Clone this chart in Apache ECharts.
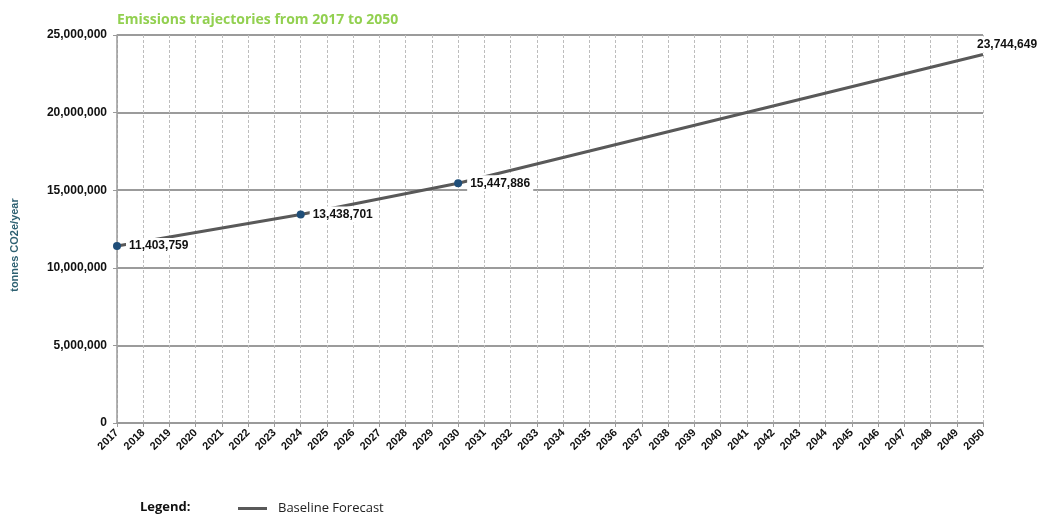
<!DOCTYPE html>
<html>
<head>
<meta charset="utf-8">
<script src="https://cdn.jsdelivr.net/npm/echarts@6/dist/echarts.min.js"></script>
<style>
  html, body { margin: 0; padding: 0; background: #fff; }
  #chart { width: 1039px; height: 515px; }
</style>
</head>
<body>
<div id="chart"></div>
<script>
  // years on the x axis
  const years = [];
  for (let y = 2017; y <= 2050; y++) years.push(String(y));

  // known points of the baseline forecast (others left empty, line joins them)
  const pointYears = ['2017', '2024', '2030', '2050'];
  const pointValues = [11403759, 13438701, 15447886, 23744649];
  const markedYears = ['2017', '2024', '2030'];

  const fmt = v => Math.round(v).toLocaleString('en-US');

  const seriesData = years.map(y => {
    const i = pointYears.indexOf(y);
    if (i < 0) return null;
    const item = {
      value: pointValues[i],
      symbolSize: markedYears.includes(y) ? 8 : 0
    };
    // the last label sits above the end of the line
    if (y === '2050') item.label = { offset: [-14, -10] };
    return item;
  });

  const chart = echarts.init(document.getElementById('chart'));

  const option = {
    animation: false,
    title: {
      text: 'Emissions trajectories from 2017 to 2050',
      left: 112,
      top: 8,
      textStyle: {
        color: '#92d050',
        fontFamily: 'Open Sans',
        fontWeight: 'bold',
        fontSize: 14
      }
    },
    legend: {
      data: ['Baseline Forecast'],
      left: 233,
      top: 497,
      itemWidth: 29,
      itemHeight: 3,
      itemGap: 10,
      icon: 'rect',
      itemStyle: { color: '#595959' },
      textStyle: {
        fontFamily: 'Open Sans',
        fontSize: 13,
        color: '#222',
        padding: [0, 0, 0, 6]
      }
    },
    graphic: [{
      type: 'text',
      left: 140,
      top: 501,
      style: {
        text: 'Legend:',
        font: 'bold 13px "Open Sans"',
        fill: '#111'
      }
    }, {
      type: 'text',
      x: 15,
      y: 245,
      rotation: Math.PI / 2,
      style: {
        text: 'tonnes CO2e/year',
        font: 'bold 11px "Liberation Sans"',
        fill: '#2e6172',
        align: 'center',
        verticalAlign: 'middle'
      }
    }],
    grid: {
      left: 117,
      right: 56,
      top: 35,
      bottom: 92
    },
    xAxis: {
      type: 'category',
      data: years,
      boundaryGap: false,
      axisLine: { lineStyle: { color: '#9a9a9a', width: 1.5 } },
      axisTick: { show: true, alignWithLabel: true, length: 4, lineStyle: { color: '#9a9a9a' } },
      axisLabel: {
        rotate: 45,
        interval: 0,
        margin: 8,
        color: '#111',
        fontFamily: 'Liberation Sans',
        fontWeight: 'bold',
        fontSize: 11
      },
      splitLine: {
        show: true,
        interval: 0,
        lineStyle: { color: '#bdbdbd', type: [3, 2], width: 1 }
      }
    },
    yAxis: {
      type: 'value',
      min: 0,
      max: 25000000,
      interval: 5000000,
      axisLine: { show: true, lineStyle: { color: '#9a9a9a', width: 1.5 } },
      axisTick: { show: true, length: 4, lineStyle: { color: '#9a9a9a' } },
      axisLabel: {
        color: '#111',
        fontFamily: 'Liberation Sans',
        fontWeight: 'bold',
        fontSize: 12,
        margin: 10,
        formatter: v => fmt(v)
      },
      splitLine: {
        show: true,
        lineStyle: { color: '#7a7a7a', width: 1.5 }
      }
    },
    series: [{
      name: 'Baseline Forecast',
      type: 'line',
      data: seriesData,
      connectNulls: true,
      symbol: 'circle',
      showAllSymbol: true,
      lineStyle: { color: '#595959', width: 3 },
      itemStyle: { color: '#1f4e79' },
      label: {
        show: true,
        position: 'right',
        distance: 5,
        color: '#111',
        fontFamily: 'Liberation Sans',
        fontWeight: 'bold',
        fontSize: 12,
        backgroundColor: '#fff',
        padding: [2, 3],
        formatter: p => p.value == null ? '' : fmt(p.value)
      }
    }]
  };

  chart.setOption(option);
</script>
</body>
</html>
